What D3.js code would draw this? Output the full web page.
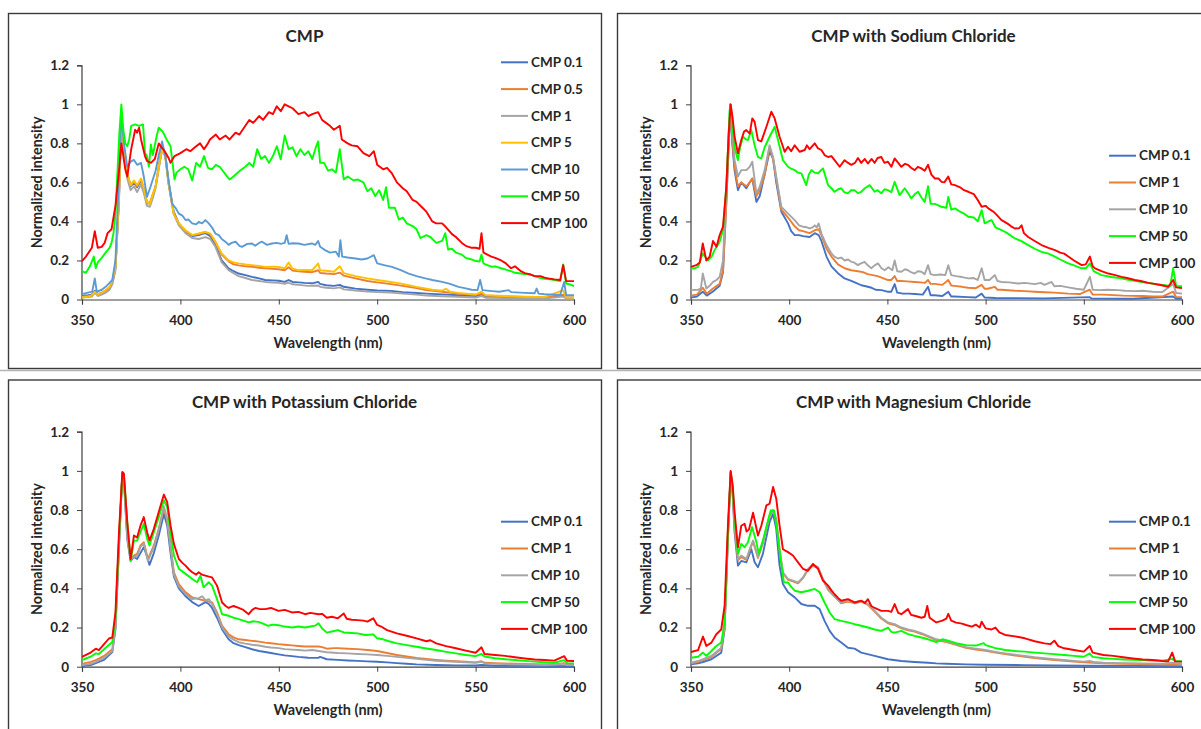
<!DOCTYPE html>
<html>
<head>
<meta charset="utf-8">
<script src="https://cdn.jsdelivr.net/npm/d3@7"></script>
<style>
  body { margin: 0; background: #fff; }
  svg text { font-family: Lato, "Open Sans", sans-serif; font-weight: bold; fill: #262626; }
</style>
</head>
<body>
<div id="chart"></div>
<script>
// ---- data (wavelength nm, normalized intensity) ----
const xTicks = [350, 400, 450, 500, 550, 600];
const yTicks = [0, 0.2, 0.4, 0.6, 0.8, 1, 1.2];
const titles = ["CMP", "CMP with Sodium Chloride", "CMP with Potassium Chloride", "CMP with Magnesium Chloride"];
const labels1 = ["CMP 0.1", "CMP 0.5", "CMP 1", "CMP 5", "CMP 10", "CMP 50", "CMP 100"];
const labels2 = ["CMP 0.1", "CMP 1", "CMP 10", "CMP 50", "CMP 100"];
const colors1 = ["#4472C4", "#ED7D31", "#A5A5A5", "#FFC000", "#5B9BD5", "#00FF00", "#FF0000"];
const colors2 = ["#4472C4", "#ED7D31", "#A5A5A5", "#00FF00", "#FF0000"];

// panel 1: CMP
const p1_cmp01 = [[350,0.02],[353,0.022],[355,0.025],[356.5,0.045],[358,0.028],[360,0.035],[362,0.045],[364,0.06],[365.5,0.09],[367,0.16],[368.8,0.52],[370,0.95],[371.3,0.78],[373,0.64],[374.7,0.58],[376.4,0.6],[378,0.575],[380,0.61],[381.4,0.565],[383,0.5],[384.5,0.49],[386,0.53],[387.4,0.58],[389,0.68],[390.7,0.78],[392.4,0.74],[394,0.6],[396.6,0.45],[399.2,0.39],[402.6,0.35],[406,0.325],[409.3,0.33],[412.7,0.34],[415.2,0.325],[417.8,0.28],[421,0.2],[424.5,0.16],[427,0.145],[429.6,0.133],[433,0.125],[436.4,0.116],[440,0.108],[443,0.1],[447,0.098],[450,0.096],[453,0.09],[455,0.1],[457,0.09],[460,0.088],[463,0.085],[467,0.083],[470,0.09],[471,0.08],[474,0.073],[478,0.07],[481,0.075],[483,0.065],[489,0.056],[495,0.05],[500,0.046],[507,0.044],[513,0.038],[520,0.033],[525,0.03],[533,0.026],[541,0.022],[550,0.018],[553,0.025],[555,0.017],[565,0.013],[575,0.01],[585,0.009],[594.5,0.02],[596,0.008],[600,0.008]];
const p1_cmp05 = [[350,0.015],[353,0.018],[355,0.022],[356.5,0.04],[358,0.025],[360,0.032],[362,0.045],[364,0.06],[365.5,0.095],[367,0.165],[368.8,0.53],[370,0.92],[371.3,0.78],[373,0.645],[374.7,0.585],[376.4,0.605],[378,0.58],[380,0.615],[381.4,0.565],[383,0.49],[384.5,0.495],[386,0.54],[387.4,0.58],[389,0.68],[390.7,0.77],[392.4,0.73],[394,0.595],[396.6,0.44],[399.2,0.385],[402.6,0.35],[406,0.33],[409.3,0.335],[412.7,0.345],[415.2,0.335],[417.8,0.295],[421,0.23],[424.5,0.195],[427,0.18],[429.6,0.175],[433,0.17],[436.4,0.168],[440,0.163],[443,0.16],[447,0.157],[450,0.155],[453,0.15],[455,0.165],[457,0.148],[460,0.145],[463,0.142],[467,0.14],[470,0.15],[471,0.136],[474,0.133],[478,0.13],[481,0.138],[483,0.122],[489,0.108],[495,0.095],[500,0.088],[507,0.079],[513,0.07],[520,0.058],[525,0.048],[533,0.04],[541,0.03],[550,0.024],[553,0.03],[555,0.021],[565,0.016],[575,0.013],[585,0.011],[594.5,0.025],[596,0.01],[600,0.01]];
const p1_cmp1 = [[350,0.01],[353,0.012],[355,0.015],[356.5,0.035],[358,0.018],[360,0.025],[362,0.035],[364,0.05],[365.5,0.08],[367,0.15],[368.8,0.5],[370,0.93],[371.3,0.76],[373,0.62],[374.7,0.56],[376.4,0.58],[378,0.55],[380,0.59],[381.4,0.545],[383,0.48],[384.5,0.475],[386,0.52],[387.4,0.57],[389,0.67],[390.7,0.77],[392.4,0.73],[394,0.59],[396.6,0.44],[399.2,0.38],[402.6,0.34],[406,0.315],[409.3,0.31],[412.7,0.32],[415.2,0.31],[417.8,0.27],[421,0.19],[424.5,0.15],[427,0.135],[429.6,0.12],[433,0.11],[436.4,0.1],[440,0.095],[443,0.09],[447,0.087],[450,0.085],[453,0.08],[455,0.087],[457,0.078],[460,0.075],[465,0.07],[470,0.072],[471,0.065],[474,0.06],[478,0.057],[481,0.062],[483,0.052],[489,0.046],[495,0.041],[500,0.038],[507,0.035],[513,0.03],[520,0.025],[525,0.02],[533,0.017],[541,0.014],[550,0.01],[553,0.018],[555,0.009],[565,0.007],[575,0.006],[585,0.005],[594.5,0.015],[596,0.005],[600,0.005]];
const p1_cmp5 = [[350,0.01],[353,0.015],[355,0.02],[356.5,0.04],[358,0.025],[360,0.035],[362,0.048],[364,0.065],[365.5,0.1],[367,0.167],[368.8,0.54],[370,0.92],[371.3,0.78],[373,0.646],[374.7,0.586],[376.4,0.61],[378,0.586],[380,0.62],[381.4,0.57],[383,0.5],[384.5,0.49],[386,0.54],[387.4,0.578],[389,0.68],[390.7,0.774],[392.4,0.73],[394,0.595],[396.6,0.44],[399.2,0.39],[402.6,0.355],[406,0.33],[409.3,0.338],[412.7,0.347],[415.2,0.338],[417.8,0.296],[421,0.236],[424.5,0.2],[427,0.19],[429.6,0.185],[433,0.18],[436.4,0.176],[440,0.172],[443,0.167],[447,0.168],[450,0.167],[453,0.16],[455,0.19],[457,0.158],[460,0.15],[463,0.152],[467,0.15],[470,0.185],[471,0.15],[474,0.147],[478,0.142],[481,0.17],[483,0.135],[489,0.12],[495,0.108],[500,0.1],[507,0.09],[513,0.08],[520,0.065],[525,0.056],[528,0.05],[533,0.045],[535,0.055],[537,0.04],[541,0.034],[548,0.027],[550,0.025],[553,0.04],[555,0.022],[565,0.018],[575,0.014],[585,0.012],[594.5,0.048],[596,0.01],[600,0.01]];
const p1_cmp10 = [[350,0.03],[351,0.03],[353,0.035],[355.2,0.04],[356.5,0.108],[357.5,0.04],[360,0.05],[362,0.065],[364,0.085],[365.4,0.1],[367,0.2],[368.8,0.63],[370,0.95],[371.3,0.8],[373,0.68],[374.7,0.706],[376.4,0.715],[378,0.69],[380,0.7],[381.4,0.63],[383,0.526],[384.8,0.578],[387.4,0.66],[389,0.74],[390.7,0.81],[392.4,0.73],[394,0.61],[395.8,0.49],[397.5,0.47],[399.2,0.44],[401,0.43],[402.6,0.407],[404,0.41],[406,0.39],[408,0.385],[409.3,0.398],[411,0.39],[412.7,0.407],[414.4,0.39],[416,0.37],[417.8,0.338],[419.5,0.33],[421,0.31],[423,0.295],[424.5,0.28],[426,0.29],[428,0.296],[430,0.275],[431.3,0.27],[434,0.285],[436.4,0.287],[438,0.275],[440,0.29],[441.5,0.296],[444,0.28],[446.5,0.287],[449,0.29],[451,0.285],[453,0.29],[454,0.33],[455,0.285],[457,0.288],[460,0.287],[463,0.28],[466.8,0.287],[468.5,0.28],[470,0.3],[471,0.27],[473.5,0.253],[476,0.24],[479,0.245],[480.5,0.22],[481.3,0.304],[482.2,0.22],[485,0.215],[489,0.21],[492,0.205],[495,0.21],[498.3,0.227],[500,0.185],[504,0.175],[507.5,0.167],[512,0.15],[516,0.133],[520,0.12],[524.5,0.108],[528,0.1],[533,0.09],[537,0.08],[541.3,0.065],[545,0.057],[548,0.05],[551,0.048],[552.3,0.1],[553.5,0.048],[558.5,0.043],[562,0.04],[566.8,0.048],[568,0.038],[575,0.034],[580,0.032],[581,0.056],[582,0.03],[585,0.027],[590,0.025],[593,0.024],[595,0.09],[596,0.022],[600,0.022]];
const p1_cmp50 = [[350,0.145],[352,0.137],[354,0.17],[356,0.22],[357,0.16],[358,0.19],[360,0.213],[362,0.24],[364,0.265],[365,0.29],[366,0.34],[367,0.44],[368,0.65],[369,0.855],[370,1],[371,0.87],[372,0.8],[373,0.785],[374,0.82],[375,0.89],[377,0.897],[379,0.89],[381,0.897],[382,0.75],[383,0.735],[384,0.68],[385,0.795],[386,0.74],[388,0.84],[389,0.88],[390,0.87],[391,0.86],[393,0.82],[395,0.785],[396,0.7],[397,0.615],[398,0.65],[400,0.667],[402,0.68],[404,0.667],[406,0.61],[408,0.7],[410,0.68],[412,0.735],[414,0.675],[416,0.667],[418,0.69],[420,0.68],[423,0.64],[425,0.615],[427,0.63],[430,0.658],[433,0.68],[435,0.7],[437,0.68],[439,0.77],[441,0.72],[443,0.735],[445,0.7],[447,0.735],[449,0.785],[451,0.718],[453,0.84],[455,0.77],[457,0.78],[459,0.735],[461,0.77],[463,0.74],[465,0.76],[467,0.72],[469,0.785],[470,0.81],[471,0.7],[473,0.7],[475,0.66],[477,0.667],[479,0.65],[481,0.77],[483,0.615],[485,0.63],[488,0.61],[490,0.615],[493,0.6],[495,0.555],[497,0.57],[499,0.53],[501,0.56],[503,0.51],[504.5,0.575],[506,0.47],[509,0.47],[511,0.41],[513,0.42],[515,0.39],[518,0.376],[520,0.36],[522,0.315],[525,0.33],[527,0.32],[530,0.29],[533,0.3],[534.6,0.34],[536,0.256],[538,0.26],[540,0.24],[543,0.23],[545,0.213],[548,0.205],[550,0.197],[552,0.195],[553,0.23],[554,0.185],[555,0.18],[558,0.168],[560,0.17],[563,0.16],[565,0.154],[568,0.145],[570,0.137],[573,0.133],[575,0.13],[578,0.128],[580,0.12],[583,0.11],[585,0.106],[588,0.103],[590,0.1],[593,0.094],[594.5,0.18],[596,0.082],[598,0.077],[600,0.068]];
const p1_cmp100 = [[350,0.197],[352,0.22],[355,0.265],[356.5,0.35],[358,0.265],[360,0.27],[361.5,0.29],[363,0.34],[365,0.36],[367,0.48],[369,0.68],[370,0.8],[371,0.735],[372,0.667],[373,0.63],[375,0.77],[377,0.87],[378,0.855],[379,0.88],[380,0.82],[382,0.735],[383,0.71],[385,0.7],[387,0.72],[389,0.8],[390,0.785],[392,0.76],[394,0.725],[395,0.7],[397,0.735],[400,0.75],[403,0.77],[405,0.76],[408,0.785],[410,0.8],[412,0.77],[414,0.8],[415,0.82],[418,0.845],[420,0.82],[423,0.84],[425,0.82],[428,0.855],[430,0.845],[433,0.89],[435,0.92],[437,0.905],[440,0.94],[442,0.92],[445,0.96],[447,0.95],[449,0.99],[451,0.965],[453,1],[455,0.99],[457,0.98],[460,0.95],[463,0.96],[465,0.94],[467,0.95],[470,0.96],[472,0.92],[474,0.905],[476,0.89],[478,0.87],[481,0.89],[482,0.82],[485,0.8],[487,0.79],[490,0.785],[493,0.75],[496,0.735],[498.3,0.76],[500,0.69],[503,0.667],[505,0.675],[507.5,0.646],[510,0.6],[513,0.57],[515,0.555],[518,0.51],[520,0.5],[523,0.47],[525,0.45],[528,0.4],[530,0.39],[533,0.39],[535,0.37],[538,0.335],[540,0.32],[543,0.29],[545,0.275],[548,0.265],[550,0.265],[552,0.26],[553,0.34],[554,0.24],[556,0.23],[558,0.22],[560,0.213],[563,0.2],[565,0.188],[568,0.16],[570,0.17],[573,0.145],[575,0.135],[578,0.128],[580,0.12],[583,0.12],[585,0.112],[588,0.106],[590,0.103],[593,0.1],[594.5,0.176],[596,0.094],[600,0.094]];

// panel 2: with sodium chloride
const p2_cmp01 = [[350,0.01],[353,0.015],[356,0.04],[358,0.02],[361,0.04],[364.6,0.07],[366.3,0.14],[368,0.5],[370,0.98],[371,0.8],[372.2,0.66],[373.9,0.56],[375.6,0.6],[378.2,0.57],[379.9,0.6],[381.2,0.62],[383.3,0.5],[385,0.53],[387.5,0.64],[390,0.76],[391.8,0.72],[393.4,0.6],[396,0.45],[399.4,0.39],[401,0.35],[402.8,0.33],[405,0.33],[407,0.325],[410.4,0.32],[413,0.34],[415,0.33],[416.4,0.3],[419,0.22],[421.5,0.17],[424.8,0.135],[428.2,0.108],[431.6,0.095],[434,0.085],[436.7,0.073],[439,0.068],[442,0.06],[444,0.05],[447,0.048],[450,0.04],[452,0.04],[453.7,0.079],[455,0.035],[458,0.03],[461,0.03],[464,0.028],[468,0.025],[470.7,0.065],[472,0.022],[474,0.022],[478,0.018],[481,0.04],[482.5,0.015],[484,0.015],[491,0.012],[495,0.01],[498,0.03],[499.5,0.01],[505,0.008],[515,0.007],[530,0.006],[553,0.012],[554,0.005],[575,0.004],[595.5,0.015],[597,0.004],[600,0.004]];
const p2_cmp1 = [[350,0.02],[353,0.025],[356,0.06],[358,0.03],[361,0.055],[364.6,0.08],[366.3,0.15],[368,0.5],[370,1],[371,0.82],[372.2,0.68],[373.9,0.58],[375.6,0.6],[378.2,0.58],[379.9,0.6],[381.2,0.62],[383.3,0.53],[385,0.56],[387.5,0.64],[390,0.78],[391.8,0.72],[393.4,0.62],[396,0.46],[399.4,0.42],[402.8,0.375],[405,0.355],[407,0.35],[410.4,0.34],[413,0.355],[415,0.36],[416.4,0.33],[419,0.26],[421.5,0.22],[424.8,0.18],[428.2,0.16],[431.6,0.15],[435,0.145],[437.5,0.14],[440,0.13],[445,0.12],[450,0.1],[452,0.1],[453.7,0.12],[455,0.095],[457,0.095],[460,0.093],[463.9,0.09],[467,0.088],[469,0.085],[470.7,0.1],[472,0.08],[474,0.08],[478,0.075],[481,0.1],[482.5,0.072],[484,0.07],[488,0.065],[491,0.06],[495,0.058],[498,0.075],[499.5,0.055],[501,0.055],[504.7,0.065],[506,0.05],[508,0.05],[515,0.045],[520,0.043],[525,0.04],[530,0.037],[535,0.035],[542,0.03],[548,0.028],[553,0.05],[554.5,0.026],[560,0.025],[570,0.02],[580,0.018],[585,0.015],[590,0.015],[595.5,0.04],[597,0.013],[600,0.012]];
const p2_cmp10 = [[350,0.048],[353.6,0.05],[355,0.055],[356,0.133],[357.8,0.056],[359.5,0.07],[361.2,0.09],[363,0.1],[364.6,0.116],[366.3,0.2],[368,0.578],[369.9,1],[371,0.85],[372.2,0.714],[373.9,0.63],[375.6,0.663],[378.2,0.663],[379.9,0.68],[381.2,0.706],[383.3,0.544],[385,0.578],[387.5,0.663],[390,0.79],[391.8,0.73],[393.4,0.63],[396,0.475],[399.4,0.44],[402.8,0.407],[405,0.38],[407,0.373],[409,0.37],[410.4,0.364],[412,0.37],[413,0.38],[414,0.37],[415,0.39],[416.4,0.338],[419,0.279],[421.5,0.236],[423,0.22],[424.8,0.21],[426.5,0.215],[428.2,0.2],[430,0.205],[431.6,0.193],[433,0.19],[435,0.176],[436.5,0.185],[438.4,0.193],[440,0.175],[441.8,0.16],[443.5,0.175],[445.2,0.185],[447,0.16],[448.6,0.15],[450.5,0.165],[452.5,0.15],[453.7,0.2],[455,0.145],[457.1,0.142],[459,0.155],[460.5,0.15],[462,0.14],[463.9,0.133],[465.5,0.145],[467.3,0.142],[469,0.13],[470.7,0.176],[472,0.13],[474,0.125],[477,0.128],[479.5,0.125],[481,0.176],[482.5,0.125],[485,0.12],[488,0.115],[491.2,0.108],[494,0.11],[496,0.1],[498,0.16],[499.5,0.1],[502,0.1],[504.7,0.125],[506,0.095],[508,0.09],[512,0.088],[516.6,0.082],[520,0.085],[525.1,0.079],[528,0.085],[530,0.075],[533.6,0.09],[535,0.068],[538,0.07],[542.1,0.062],[546,0.055],[550,0.05],[553.1,0.116],[554.5,0.05],[558,0.048],[562,0.05],[567.5,0.048],[571,0.045],[576,0.043],[580,0.045],[585,0.04],[590,0.038],[595.5,0.08],[597,0.033],[600,0.03]];
const p2_cmp50 = [[350,0.159],[352,0.16],[353.6,0.167],[356,0.236],[358.7,0.2],[360.5,0.22],[362,0.253],[364.6,0.296],[366.3,0.356],[368,0.578],[369.7,0.97],[370.2,1],[371.2,0.88],[372.2,0.78],[373.9,0.714],[375,0.78],[376.5,0.834],[378,0.82],[379,0.817],[380.7,0.868],[382.4,0.79],[384.1,0.73],[385.8,0.723],[387.5,0.78],[390,0.834],[392.6,0.885],[394.3,0.817],[396.8,0.714],[399.4,0.68],[401,0.67],[402.8,0.663],[404.5,0.65],[406.2,0.646],[408.7,0.586],[410,0.64],[411.3,0.663],[413,0.65],[414.7,0.646],[416,0.66],[417.2,0.672],[419.8,0.586],[421.5,0.57],[423.1,0.552],[425,0.565],[426.5,0.57],[428,0.55],[429.9,0.544],[431.5,0.56],[433.3,0.56],[435,0.545],[436.7,0.552],[438.5,0.57],[441,0.586],[443.5,0.552],[445,0.56],[446.9,0.544],[448.5,0.565],[450.3,0.56],[452,0.55],[453.7,0.603],[456.2,0.535],[458.8,0.57],[460.5,0.545],[462.2,0.518],[464,0.54],[465.6,0.552],[467.5,0.52],[469,0.5],[470.7,0.58],[472,0.49],[474.2,0.49],[477.6,0.475],[480,0.47],[481,0.526],[482.5,0.46],[484.4,0.467],[487,0.45],[489,0.44],[491.2,0.424],[494,0.42],[496,0.4],[498,0.458],[499.5,0.39],[501.5,0.4],[503,0.407],[505,0.37],[508.1,0.356],[511,0.34],[514.9,0.313],[518,0.3],[521.7,0.279],[525,0.26],[528.5,0.244],[532,0.235],[535.3,0.22],[538,0.205],[542.1,0.185],[545,0.175],[548.9,0.16],[551,0.16],[553.1,0.185],[555,0.145],[559,0.125],[564,0.115],[569.2,0.108],[572,0.102],[576,0.096],[579,0.09],[582.8,0.085],[587,0.078],[591.3,0.073],[594,0.07],[595.5,0.16],[597,0.07],[600,0.068]];
const p2_cmp100 = [[350,0.167],[352.7,0.176],[354.5,0.19],[356,0.287],[357.8,0.2],[359.5,0.22],[361.2,0.3],[363,0.27],[364.6,0.33],[366.3,0.373],[368,0.578],[369.2,0.85],[370.2,1],[371.2,0.93],[372.2,0.834],[373.9,0.749],[375.6,0.817],[377,0.86],[378.2,0.868],[379.9,0.85],[381.2,0.928],[382.4,0.91],[384.1,0.817],[385.8,0.81],[388.4,0.885],[390.9,0.962],[392.6,0.928],[395.1,0.834],[397.7,0.757],[399.4,0.783],[401,0.76],[402.8,0.79],[405.3,0.757],[407.9,0.766],[409,0.79],[410.4,0.77],[413,0.8],[414.7,0.774],[416.4,0.766],[418,0.74],[419.8,0.73],[421.5,0.735],[423.1,0.714],[425.7,0.68],[428.2,0.714],[430,0.7],[431.6,0.69],[433.5,0.7],[435,0.725],[436.7,0.7],[438.5,0.72],[440.1,0.697],[442,0.72],[443.5,0.7],[445,0.725],[446.9,0.73],[448.5,0.7],[450.3,0.706],[452,0.68],[453.7,0.723],[455.5,0.7],[457.1,0.68],[459,0.695],[460.5,0.69],[462,0.675],[463.9,0.663],[465.5,0.68],[467.3,0.672],[469,0.66],[470.7,0.69],[472.4,0.64],[474.2,0.62],[476,0.62],[477.6,0.603],[479,0.6],[481,0.63],[482.5,0.59],[484.4,0.586],[487,0.575],[489,0.56],[491.2,0.552],[494,0.54],[496,0.51],[498,0.475],[500,0.48],[501.4,0.467],[504,0.45],[506,0.43],[508.1,0.407],[511,0.39],[513,0.375],[514.9,0.364],[517,0.365],[518.3,0.38],[519.5,0.34],[521.7,0.32],[525,0.3],[528.5,0.279],[532,0.265],[535.3,0.253],[538,0.24],[540,0.235],[542.1,0.22],[545,0.2],[548.9,0.176],[551,0.18],[553.1,0.22],[554.5,0.17],[555.7,0.16],[559,0.145],[562.5,0.133],[566,0.125],[569.2,0.116],[572,0.11],[576,0.1],[579,0.095],[582.8,0.085],[586,0.08],[589.6,0.073],[593,0.065],[595.5,0.1],[597,0.062],[600,0.058]];

// panel 3: with potassium chloride
const p3_cmp01 = [[350,0.003],[354.4,0.008],[357,0.018],[361.2,0.035],[365.4,0.075],[367,0.19],[368.8,0.6],[370.5,0.99],[371.3,0.95],[373,0.65],[374.7,0.54],[376.4,0.56],[378,0.55],[379.7,0.58],[381.4,0.61],[383.1,0.56],[384.3,0.52],[386.5,0.58],[389,0.67],[391.6,0.78],[393.3,0.72],[395,0.58],[396.7,0.46],[399.2,0.4],[402.6,0.36],[406,0.33],[409.3,0.31],[412.7,0.33],[414.5,0.32],[416.1,0.3],[418.6,0.25],[421.2,0.19],[424.5,0.14],[427,0.12],[429.6,0.11],[433,0.1],[436.4,0.089],[440,0.08],[443.1,0.075],[446,0.07],[449.9,0.063],[453,0.058],[456.7,0.054],[460,0.05],[465,0.046],[470,0.045],[471,0.05],[474.4,0.038],[480,0.035],[485,0.032],[490,0.03],[495,0.027],[500,0.025],[505,0.022],[510,0.018],[515,0.015],[520,0.012],[530,0.009],[540,0.007],[550,0.006],[553,0.009],[560,0.005],[580,0.004],[600,0.003]];
const p3_cmp1 = [[350,0.015],[351,0.017],[354.4,0.025],[357,0.034],[361.2,0.055],[365.4,0.089],[367,0.21],[368.8,0.636],[370.5,0.986],[371.3,0.97],[373,0.67],[374.7,0.55],[376.4,0.567],[378,0.576],[379.7,0.619],[381.4,0.636],[383.5,0.55],[386.5,0.619],[389,0.704],[391.6,0.807],[393.3,0.747],[395,0.619],[396.7,0.482],[399.2,0.422],[402.6,0.38],[406,0.354],[409.3,0.345],[412.7,0.337],[416.1,0.328],[418.6,0.277],[421.2,0.209],[424.5,0.166],[427,0.15],[429.6,0.14],[433,0.136],[436.4,0.132],[440,0.128],[443.1,0.123],[446,0.12],[449.9,0.115],[453,0.112],[456.7,0.109],[460,0.106],[463.4,0.103],[467,0.104],[470.2,0.103],[472,0.1],[474.4,0.092],[478,0.095],[480,0.095],[485,0.092],[490,0.09],[495,0.085],[500,0.08],[505,0.07],[510,0.06],[515,0.052],[520,0.045],[525,0.04],[530,0.035],[535,0.031],[540,0.028],[545,0.025],[550,0.022],[553,0.028],[554.5,0.02],[560,0.018],[570,0.015],[580,0.013],[590,0.011],[595,0.018],[596.5,0.01],[600,0.01]];
const p3_cmp10 = [[350,0.008],[354.4,0.015],[357,0.025],[361.2,0.045],[365.4,0.08],[367,0.2],[368.8,0.62],[370.5,0.98],[371.3,0.96],[373,0.66],[374.7,0.545],[376.4,0.56],[378,0.565],[379.7,0.61],[381.4,0.63],[383.5,0.54],[386.5,0.61],[389,0.7],[391.6,0.82],[393.3,0.75],[395,0.61],[396.7,0.47],[399.2,0.41],[402.6,0.37],[406,0.345],[409.3,0.35],[411,0.36],[412.7,0.34],[414.5,0.345],[416.1,0.32],[418.6,0.27],[421.2,0.2],[424.5,0.155],[427,0.138],[429.6,0.125],[433,0.118],[436.4,0.112],[440,0.108],[443.1,0.102],[446,0.098],[449.9,0.095],[453,0.09],[456.7,0.087],[460,0.085],[463.4,0.082],[467,0.085],[470.2,0.08],[474.4,0.074],[480,0.07],[485,0.068],[490,0.065],[495,0.063],[500,0.06],[505,0.055],[510,0.05],[515,0.045],[520,0.04],[525,0.035],[530,0.03],[540,0.025],[550,0.02],[553,0.025],[555,0.017],[565,0.013],[575,0.011],[585,0.009],[595,0.015],[596.5,0.008],[600,0.008]];
const p3_cmp50 = [[350,0.035],[351,0.038],[354.4,0.051],[357,0.068],[358.6,0.065],[361.2,0.089],[365.4,0.126],[367,0.243],[368.8,0.653],[370.5,0.986],[371.3,0.978],[373,0.738],[374.7,0.54],[376.4,0.644],[378,0.644],[379.7,0.687],[381.4,0.73],[383.1,0.653],[384.3,0.619],[386.5,0.687],[389,0.764],[391.6,0.85],[393.3,0.815],[395,0.687],[396.7,0.568],[399.2,0.5],[402.6,0.474],[404.5,0.46],[406,0.448],[408.5,0.431],[410.2,0.465],[411.8,0.405],[414.4,0.431],[416.1,0.414],[418.6,0.345],[421.2,0.268],[424.5,0.26],[427,0.25],[429.6,0.243],[432,0.235],[434.7,0.226],[437,0.232],[439.6,0.229],[442,0.22],[444.6,0.209],[447,0.215],[449.9,0.212],[453,0.205],[456.7,0.2],[460,0.205],[463.4,0.2],[466,0.205],[468.5,0.21],[470.2,0.222],[472,0.195],[474.4,0.174],[477,0.18],[480,0.187],[483,0.175],[487,0.172],[490,0.17],[494,0.162],[498,0.165],[500,0.145],[503,0.14],[506,0.13],[510,0.119],[515,0.11],[520,0.102],[525,0.093],[530,0.085],[535,0.076],[540,0.068],[545,0.06],[550,0.054],[553,0.065],[554.5,0.052],[560,0.043],[565,0.038],[570,0.034],[575,0.03],[580,0.026],[585,0.023],[590,0.02],[595,0.034],[596.5,0.018],[600,0.017]];
const p3_cmp100 = [[350,0.05],[351,0.055],[354.4,0.072],[357,0.092],[358.6,0.085],[361.2,0.115],[363.7,0.144],[365.4,0.149],[367,0.277],[368.8,0.687],[370.5,0.995],[371.3,0.986],[373,0.738],[374.7,0.55],[376.4,0.67],[378,0.66],[379.7,0.72],[381.4,0.764],[383.1,0.687],[384.3,0.644],[386.5,0.704],[389,0.79],[391.6,0.879],[393.3,0.84],[395,0.72],[396.7,0.627],[399.2,0.55],[401,0.53],[402.6,0.516],[404.5,0.495],[406,0.482],[408,0.47],[409.3,0.482],[411,0.47],[412.7,0.465],[414.5,0.46],[416.1,0.456],[418.6,0.414],[421.2,0.328],[423,0.31],[424.5,0.3],[427,0.31],[429.6,0.3],[432,0.29],[434.7,0.268],[436.5,0.29],[438,0.3],[440,0.295],[443.1,0.294],[446,0.3],[449.9,0.285],[453,0.29],[456.7,0.277],[460,0.28],[463.4,0.268],[466,0.275],[470.2,0.268],[472,0.27],[474.4,0.25],[477,0.255],[480,0.247],[483,0.272],[484.5,0.245],[487,0.24],[490,0.238],[493,0.235],[495,0.23],[498,0.247],[500,0.213],[502,0.205],[505,0.187],[510,0.17],[515,0.158],[520,0.145],[525,0.13],[527,0.135],[530,0.119],[535,0.105],[540,0.094],[545,0.082],[550,0.071],[553,0.099],[554.5,0.065],[560,0.06],[565,0.055],[570,0.048],[575,0.042],[580,0.037],[585,0.034],[590,0.031],[595,0.054],[596.5,0.03],[600,0.029]];

// panel 4: with magnesium chloride
const p4_cmp01 = [[350,0.012],[353.6,0.017],[356.1,0.024],[360.4,0.038],[365.4,0.072],[367.1,0.19],[368.8,0.653],[370.2,0.986],[371.2,0.88],[372.2,0.687],[373.9,0.516],[375.6,0.54],[378.2,0.533],[380.7,0.6],[382.4,0.533],[384.1,0.508],[386.6,0.576],[390,0.738],[391.8,0.78],[393.4,0.704],[395.1,0.516],[396.8,0.422],[399.4,0.38],[402.8,0.354],[406.2,0.32],[409.6,0.311],[413,0.311],[415.5,0.294],[418,0.234],[420.6,0.183],[423.1,0.149],[426.5,0.123],[429.9,0.097],[433.3,0.092],[436.7,0.072],[443.5,0.055],[450.3,0.038],[457.1,0.029],[463.9,0.024],[470.7,0.02],[474.9,0.017],[480,0.015],[490,0.012],[500,0.01],[520,0.008],[550,0.005],[575,0.004],[600,0.003]];
const p4_cmp1 = [[350,0.016],[353.6,0.025],[356.1,0.034],[360.4,0.05],[365.4,0.092],[367.1,0.2],[368.8,0.66],[370.2,0.99],[371.2,0.89],[372.2,0.71],[373.9,0.545],[375.6,0.56],[378.2,0.545],[379.9,0.595],[381.6,0.64],[384.1,0.555],[386.6,0.63],[390,0.768],[391.8,0.795],[393.4,0.75],[395.1,0.595],[396.8,0.478],[399.4,0.444],[401.9,0.436],[404.5,0.426],[407,0.452],[409.6,0.495],[412.1,0.515],[414.7,0.503],[417.2,0.444],[419.8,0.393],[423.1,0.358],[426.5,0.324],[429.9,0.333],[433.3,0.324],[436.7,0.333],[440.1,0.316],[443.5,0.281],[446.9,0.246],[450.3,0.222],[453.7,0.213],[457.1,0.196],[460.5,0.186],[463.9,0.179],[467.3,0.167],[470.7,0.153],[474.9,0.136],[480,0.126],[485,0.111],[490,0.096],[495,0.088],[500,0.081],[505,0.072],[510,0.064],[515,0.057],[520,0.051],[525,0.044],[530,0.039],[535,0.034],[540,0.03],[545,0.026],[550,0.022],[555,0.02],[560,0.017],[570,0.015],[580,0.014],[590,0.012],[600,0.011]];
const p4_cmp10 = [[350,0.02],[353.6,0.029],[356.1,0.038],[360.4,0.055],[365.4,0.097],[367.1,0.209],[368.8,0.67],[370.2,0.995],[371.2,0.9],[372.2,0.72],[373.9,0.55],[375.6,0.567],[378.2,0.55],[379.9,0.6],[381.6,0.644],[384.1,0.56],[386.6,0.636],[390,0.773],[391.8,0.8],[393.4,0.755],[395.1,0.6],[396.8,0.482],[399.4,0.448],[401.9,0.44],[404.5,0.43],[407,0.456],[409.6,0.5],[412.1,0.52],[414.7,0.508],[417.2,0.448],[419.8,0.397],[423.1,0.362],[426.5,0.328],[429.9,0.337],[433.3,0.328],[436.7,0.337],[440.1,0.32],[443.5,0.285],[446.9,0.25],[450.3,0.226],[453.7,0.217],[457.1,0.2],[460.5,0.19],[463.9,0.183],[467.3,0.171],[470.7,0.157],[474.9,0.14],[480,0.13],[485,0.115],[490,0.1],[495,0.092],[500,0.085],[505,0.076],[510,0.068],[515,0.061],[520,0.055],[525,0.048],[530,0.043],[535,0.038],[540,0.034],[545,0.03],[550,0.026],[553,0.03],[555,0.024],[560,0.02],[570,0.018],[580,0.017],[590,0.015],[595,0.02],[600,0.014]];
const p4_cmp50 = [[350,0.046],[353.6,0.051],[356.1,0.072],[357.8,0.055],[360.4,0.08],[362.9,0.106],[365.4,0.123],[367.1,0.226],[368.8,0.687],[370.2,0.995],[371.2,0.92],[372.2,0.755],[373.9,0.576],[375.6,0.627],[377.3,0.61],[379,0.636],[381.1,0.713],[383.3,0.636],[384.5,0.576],[386.6,0.644],[389,0.738],[390.6,0.798],[392.3,0.798],[394,0.687],[395.6,0.55],[397.3,0.431],[399.4,0.43],[400.5,0.414],[402.8,0.388],[406.2,0.38],[409.6,0.388],[413,0.397],[415.5,0.38],[418,0.328],[420.6,0.277],[423.1,0.243],[426.5,0.234],[429.9,0.226],[433.3,0.217],[436.7,0.209],[440.1,0.2],[443.5,0.19],[446.9,0.183],[450.3,0.2],[452,0.178],[453.7,0.174],[457.1,0.183],[460.5,0.166],[463.9,0.157],[467.3,0.149],[470.7,0.14],[474.9,0.126],[478,0.14],[480,0.136],[485,0.12],[490,0.11],[495,0.108],[499,0.12],[500,0.11],[505,0.095],[510,0.085],[515,0.08],[520,0.077],[525,0.072],[530,0.068],[535,0.064],[540,0.06],[545,0.055],[550,0.051],[553,0.068],[554.5,0.05],[560,0.043],[565,0.04],[570,0.037],[575,0.035],[580,0.034],[585,0.032],[590,0.031],[595,0.04],[596.5,0.029],[600,0.027]];
const p4_cmp100 = [[350,0.075],[353.6,0.085],[356.1,0.154],[357.8,0.106],[360.4,0.123],[362.9,0.166],[365.4,0.19],[367.1,0.31],[368.8,0.72],[370.2,1],[371.2,0.93],[372.2,0.79],[373.9,0.61],[375.6,0.72],[377.3,0.73],[378.3,0.69],[379.5,0.7],[381.6,0.786],[384.1,0.67],[385.8,0.72],[388.4,0.824],[390,0.832],[391.8,0.918],[393.4,0.858],[395.1,0.72],[396.8,0.6],[399.4,0.585],[401.9,0.568],[404.5,0.533],[407,0.5],[409.6,0.49],[412.1,0.525],[414.7,0.5],[417.2,0.44],[419.8,0.414],[421.5,0.39],[423.1,0.37],[425,0.35],[426.5,0.337],[429.9,0.345],[433.3,0.328],[436.7,0.337],[438.5,0.325],[440.1,0.345],[441.8,0.31],[443.5,0.3],[446.9,0.285],[450.3,0.285],[452,0.28],[453.7,0.32],[455.5,0.275],[457.1,0.268],[460.5,0.294],[462,0.265],[463.9,0.26],[467.3,0.25],[469,0.255],[470.3,0.31],[471.5,0.25],[474.9,0.226],[478,0.235],[480,0.245],[481,0.27],[482.5,0.235],[485,0.225],[488,0.22],[490,0.213],[493,0.205],[495,0.215],[497,0.2],[498,0.23],[500,0.196],[503,0.19],[505,0.2],[507,0.175],[510,0.162],[515,0.155],[520,0.145],[525,0.13],[530,0.119],[533,0.115],[535,0.133],[537,0.105],[540,0.094],[545,0.085],[550,0.077],[553,0.106],[554.5,0.072],[560,0.06],[565,0.055],[570,0.048],[575,0.042],[580,0.037],[585,0.034],[590,0.029],[593,0.028],[595,0.072],[596.5,0.027],[600,0.026]];

const panelSeries = [
  [p1_cmp01, p1_cmp05, p1_cmp1, p1_cmp5, p1_cmp10, p1_cmp50, p1_cmp100],
  [p2_cmp01, p2_cmp1, p2_cmp10, p2_cmp50, p2_cmp100],
  [p3_cmp01, p3_cmp1, p3_cmp10, p3_cmp50, p3_cmp100],
  [p4_cmp01, p4_cmp1, p4_cmp10, p4_cmp50, p4_cmp100]
];

// ---- layout ----
const W = 1201, H = 729;
const layouts = [
  {fx: 8,   fy: 13.5, x0: 82,  x1: 574,  yTop: 65.3,  yBot: 299.5, titleY: 36,  legX: 501,  legY: 62.3},
  {fx: 617, fy: 13.5, x0: 691, x1: 1182, yTop: 65.3,  yBot: 299.5, titleY: 36,  legX: 1109, legY: 155.7},
  {fx: 8,   fy: 380,  x0: 82,  x1: 574,  yTop: 431.7, yBot: 666.7, titleY: 402, legX: 501,  legY: 521.7},
  {fx: 617, fy: 380,  x0: 691, x1: 1182, yTop: 431.7, yBot: 666.7, titleY: 402, legX: 1109, legY: 521.7}
];
const frameW = 593, frameH = 355;

const svg = d3.select("#chart").append("svg")
    .attr("width", W)
    .attr("height", H);

// thin grey separator between the two rows of screenshots
svg.append("line")
    .attr("x1", 0).attr("x2", W)
    .attr("y1", 370.5).attr("y2", 370.5)
    .attr("stroke", "#b4b4b4").attr("stroke-width", 1.5);

layouts.forEach((L, i) => {
  const series = panelSeries[i];
  const names = i === 0 ? labels1 : labels2;
  const cols = i === 0 ? colors1 : colors2;

  const x = d3.scaleLinear().domain([350, 600]).range([L.x0, L.x1]);
  const y = d3.scaleLinear().domain([0, 1.2]).range([L.yBot, L.yTop]);

  const g = svg.append("g");

  g.append("rect")
      .attr("x", L.fx + 0.5).attr("y", L.fy)
      .attr("width", frameW).attr("height", frameH)
      .attr("fill", "none")
      .attr("stroke", "#3a3a3a")
      .attr("stroke-width", 1.4);

  g.append("text")
      .attr("x", L.fx + frameW / 2)
      .attr("y", L.titleY)
      .attr("dy", "0.35em")
      .attr("text-anchor", "middle")
      .attr("font-size", 17)
      .text(titles[i]);

  // axes
  const yAxis = g.append("g")
      .attr("transform", `translate(${L.x0},0)`)
      .call(d3.axisLeft(y).tickValues(yTicks).tickSize(5).tickPadding(8)
        .tickFormat(d => String(+d.toFixed(1))));
  const xAxis = g.append("g")
      .attr("transform", `translate(0,${L.yBot})`)
      .call(d3.axisBottom(x).tickValues(xTicks).tickSize(5).tickPadding(11));
  [yAxis, xAxis].forEach(a => {
    a.select(".domain").attr("stroke", "#404040").attr("stroke-width", 1.2);
    a.selectAll(".tick line").attr("stroke", "#404040");
    a.selectAll("text")
        .attr("font-family", "Lato, 'Open Sans', sans-serif")
        .attr("font-weight", "bold")
        .attr("font-size", 13.5)
        .attr("fill", "#262626");
  });
  yAxis.select(".domain").attr("d", `M-5,${L.yTop + 0.5}H0V${L.yBot}`);

  g.append("text")
      .attr("transform", `translate(${L.fx + 29},${(L.yTop + L.yBot) / 2}) rotate(-90)`)
      .attr("dy", "0.35em")
      .attr("text-anchor", "middle")
      .attr("font-size", 14.3)
      .text("Normalized intensity");

  g.append("text")
      .attr("x", (L.x0 + L.x1) / 2)
      .attr("y", L.yBot + 43.5)
      .attr("dy", "0.35em")
      .attr("text-anchor", "middle")
      .attr("font-size", 14.5)
      .text("Wavelength (nm)");

  // spectra
  const line = d3.line().x(d => x(d[0])).y(d => y(d[1]));
  g.append("g")
      .attr("fill", "none")
      .attr("stroke-width", 1.9)
      .attr("stroke-linejoin", "round")
    .selectAll("path")
    .data(series)
    .join("path")
      .attr("stroke", (d, k) => cols[k])
      .attr("d", line);

  // legend
  const leg = g.append("g")
    .selectAll("g")
    .data(names)
    .join("g")
      .attr("transform", (d, k) => `translate(${L.legX},${L.legY + k * 26.8})`);
  leg.append("line")
      .attr("x1", 0).attr("x2", 27)
      .attr("stroke", (d, k) => cols[k])
      .attr("stroke-width", 2);
  leg.append("text")
      .attr("x", 30)
      .attr("dy", "0.35em")
      .attr("font-size", 13.5)
      .text(d => d);
});
</script>
</body>
</html>
